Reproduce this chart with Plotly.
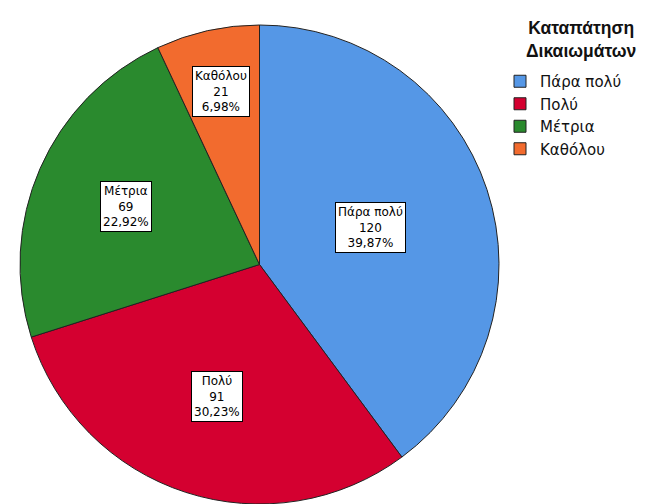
import math
import plotly.graph_objects as go

categories = ["Πάρα πολύ", "Πολύ", "Μέτρια", "Καθόλου"]
counts = [120, 91, 69, 21]
legend_title = "Καταπάτηση<br>Δικαιωμάτων"

colors = ["#5597E6", "#D40030", "#2A8A2E", "#F26B2E"]
label_radius_frac = [0.49, 0.58, 0.607, 0.742]

W, H = 656, 504
OFF = 8  # default page body margin
cx, cy_top, R = 259.5 - OFF, 264.5 - OFF, 239.5

fig = go.Figure()
fig.add_trace(go.Pie(
    labels=categories,
    values=counts,
    sort=False,
    direction="clockwise",
    rotation=0,
    marker=dict(colors=colors, line=dict(color="#222222", width=1)),
    textinfo="none",
    hoverinfo="skip",
    domain=dict(x=[(cx - R) / W, (cx + R) / W],
                y=[(H - cy_top - R) / H, (H - cy_top + R) / H]),
))

total = sum(counts)
cum = 0
for cat, v, f in zip(categories, counts, label_radius_frac):
    mid = cum + v / 2
    cum += v
    ang = math.radians(90 - 360 * mid / total)
    px = cx + f * R * math.cos(ang)
    py = cy_top - f * R * math.sin(ang)
    pct = f"{100 * v / total:.2f}".replace(".", ",") + "%"
    fig.add_annotation(
        x=px / W, y=1 - py / H, xref="paper", yref="paper",
        xanchor="center", yanchor="middle",
        text=f"{cat}<br>{v}<br>{pct}",
        showarrow=False,
        font=dict(family="DejaVu Sans, sans-serif", size=12, color="black"),
        bgcolor="white", bordercolor="black", borderwidth=1, borderpad=2,
        align="center",
    )

# legend title as a separate text block
fig.add_annotation(
    x=(581 - OFF) / W, y=1 - (39 - OFF) / H, xref="paper", yref="paper",
    xanchor="center", yanchor="middle",
    text="<b>" + legend_title + "</b>", showarrow=False, align="center",
    font=dict(family="Arial, Liberation Sans, sans-serif", size=17.5, color="#111111"),
)

fig.update_layout(
    width=W, height=H,
    margin=dict(l=0, r=0, t=0, b=0),
    paper_bgcolor="white",
    plot_bgcolor="white",
    font=dict(family="Arial, Liberation Sans, sans-serif", color="black"),
    legend=dict(
        x=(500 - OFF) / W, y=1 - (65 - OFF) / H, xanchor="left", yanchor="top",
        font=dict(family="DejaVu Sans, sans-serif", size=15, color="#111111"),
        itemwidth=30, tracegroupgap=0,
        bgcolor="rgba(0,0,0,0)",
    ),
    showlegend=True,
)

fig.write_html("out.html")
